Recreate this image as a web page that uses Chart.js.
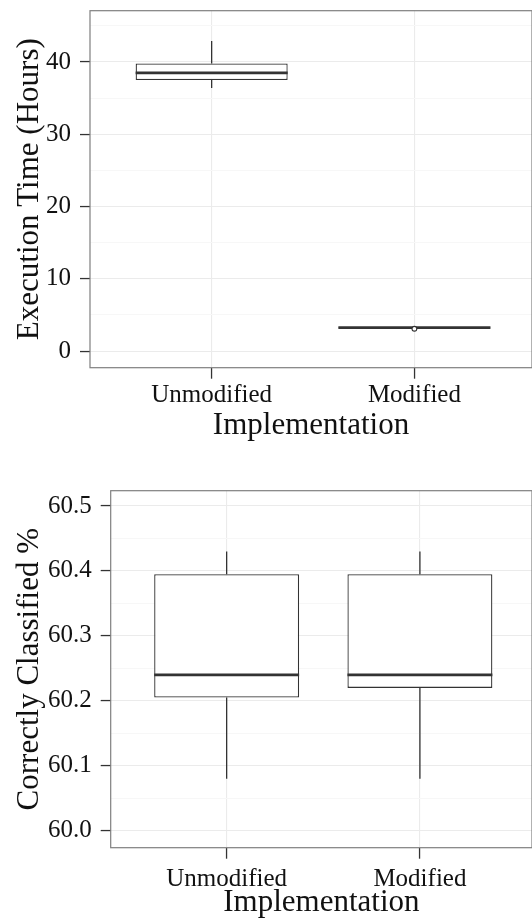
<!DOCTYPE html>
<html>
<head>
<meta charset="utf-8">
<script src="https://cdn.jsdelivr.net/npm/chart.js@4.4.0/dist/chart.umd.min.js"></script>
<style>
body{margin:0;background:#fff;}
canvas{position:absolute;left:0;}
#timeChart{top:0;}
#accChart{top:460px;}
</style>
</head>
<body>
<canvas id="timeChart" width="532" height="460"></canvas>
<canvas id="accChart" width="532" height="461"></canvas>
<script>
const categories = ["Unmodified", "Modified"];

//execution time in hours, one value per category
const timeMin      = [36.4, 3.17];
const timeQ1       = [37.5, 3.17];
const timeMedian   = [38.5, 3.25];
const timeQ3       = [39.8, 3.3];
const timeMax      = [42.9, 3.3];
const timeOutliers = [[], [3.09]];
const timeTicks    = [0, 10, 20, 30, 40];

//correctly classified %
const accMin      = [60.08, 60.08];
const accQ1       = [60.205, 60.22];
const accMedian   = [60.24, 60.24];
const accQ3       = [60.395, 60.395];
const accMax      = [60.43, 60.43];
const accOutliers = [[], []];
const accTicks    = [60.0, 60.1, 60.2, 60.3, 60.4, 60.5];

const ink = "#333333";
const majorGrid = "#ebebeb";
const minorGrid = "#f7f7f7";
const textColour = "#111111";
const serif = "'Liberation Serif', 'DejaVu Serif', serif";

const panelBorder = { //ggplot style frame round the plot area
	id: "panelBorder",
	afterDatasetsDraw(chart){
		const a = chart.chartArea, ctx = chart.ctx;
		ctx.save();
		ctx.strokeStyle = "#7f7f7f";
		ctx.lineWidth = 1.2;
		ctx.strokeRect(a.left, a.top, a.right - a.left, a.bottom - a.top);
		ctx.restore();
	}
};

function isMajor(v, majors){
	return majors.some(m => Math.abs(m - v) < 1e-9);
}

function boxChart(canvasId, s){

	const pts = (vals) => categories.map((c, i) => ({x: i + 1, y: vals(i)}));

	const step = s.ticks[1] - s.ticks[0];
	const minors = [s.ticks[0] - step / 2].concat(s.ticks.map(t => t + step / 2))
		.filter(v => v > s.yMin && v < s.yMax);
	const allTicks = s.ticks.concat(minors).sort((a, b) => a - b);

	return new Chart(canvasId, {
		type: "bar",
		data: {
			datasets: [
			{ //upper whiskers
				data: pts(i => [s.q3[i], s.max[i]]),
				backgroundColor: ink, borderWidth: 0,
				maxBarThickness: 1.3, order: 4
			},
			{ //lower whiskers
				data: pts(i => [s.min[i], s.q1[i]]),
				backgroundColor: ink, borderWidth: 0,
				maxBarThickness: 1.3, order: 4
			},
			{ //boxes
				data: pts(i => [s.q1[i], s.q3[i]]),
				backgroundColor: "#ffffff", borderColor: ink,
				borderWidth: 1.3, borderSkipped: false, order: 3
			},
			{ //medians
				type: "scatter",
				data: pts(i => s.median[i]),
				pointStyle: "line",
				pointRadius: ctx => {
					const xs = ctx.chart.scales.x;
					return (xs.getPixelForValue(2) - xs.getPixelForValue(1)) * 0.375;
				},
				pointBorderColor: ink, pointBorderWidth: 2.6, order: 2
			},
			{ //outliers
				type: "scatter",
				data: s.outliers.flatMap((arr, i) => arr.map(v => ({x: i + 1, y: v}))),
				pointStyle: "circle", pointRadius: 2.4,
				pointBackgroundColor: "#ffffff", pointBorderColor: ink,
				pointBorderWidth: 1.1, order: 1
			}]
		},
		options: {
			responsive: false,
			animation: false,
			events: [],
			grouped: false,
			barPercentage: 0.75,
			categoryPercentage: 1,
			layout: {autoPadding: false, padding: {top: s.padTop, right: 0, left: 0, bottom: 0}},
			plugins: {legend: {display: false}, tooltip: {enabled: false}},
			scales: {
				x: {
					type: "linear", min: 0.4, max: 2.58, offset: false,
					afterBuildTicks: sc => { sc.ticks = categories.map((c, i) => ({value: i + 1})); },
					afterFit: sc => { sc.height = s.xHeight; sc.paddingLeft = 0; sc.paddingRight = 0; },
					ticks: {
						callback: v => categories[Math.round(v) - 1],
						font: {family: serif, size: 25}, color: textColour,
						padding: s.xTickPad, maxRotation: 0, autoSkip: false
					},
					grid: {color: majorGrid, lineWidth: 1.1, tickLength: 11, tickColor: ink, tickWidth: 1.3, offset: false},
					border: {display: false},
					title: {display: true, text: "Implementation", color: textColour,
						font: {family: serif, size: 31}, padding: {top: 0, bottom: s.xTitlePad}}
				},
				y: {
					type: "linear", min: s.yMin, max: s.yMax,
					afterBuildTicks: sc => { sc.ticks = allTicks.map(v => ({value: v})); },
					afterFit: sc => { sc.width = s.yWidth; sc.paddingTop = 0; sc.paddingBottom = 0; },
					ticks: {
						callback: v => isMajor(v, s.ticks) ? s.fmt(v) : "",
						font: {family: serif, size: 25}, color: textColour,
						padding: 9, autoSkip: false
					},
					grid: {
						color: ctx => ctx.tick && isMajor(ctx.tick.value, s.ticks) ? majorGrid : minorGrid,
						tickColor: ctx => ctx.tick && isMajor(ctx.tick.value, s.ticks) ? ink : "rgba(0,0,0,0)",
						lineWidth: 1.1, tickLength: 10, tickWidth: 1.3
					},
					border: {display: false},
					title: {display: true, text: s.yTitle, color: textColour,
						font: {family: serif, size: 31}, padding: {top: 11, bottom: 0}}
				}
			}
		},
		plugins: [panelBorder]
	});
}

boxChart("timeChart", {
	min: timeMin, q1: timeQ1, median: timeMedian, q3: timeQ3, max: timeMax,
	outliers: timeOutliers, ticks: timeTicks, fmt: v => String(v),
	yMin: -2.3, yMax: 47.1, yTitle: "Execution Time (Hours)",
	padTop: 10.7, yWidth: 90, xHeight: 92.3, xTickPad: 2, xTitlePad: 16
});

boxChart("accChart", {
	min: accMin, q1: accQ1, median: accMedian, q3: accQ3, max: accMax,
	outliers: accOutliers, ticks: accTicks, fmt: v => v.toFixed(1),
	yMin: 59.974, yMax: 60.5235, yTitle: "Correctly Classified %",
	padTop: 30.7, yWidth: 110.7, xHeight: 73.3, xTickPad: 6, xTitlePad: 0
});
</script>
</body>
</html>
